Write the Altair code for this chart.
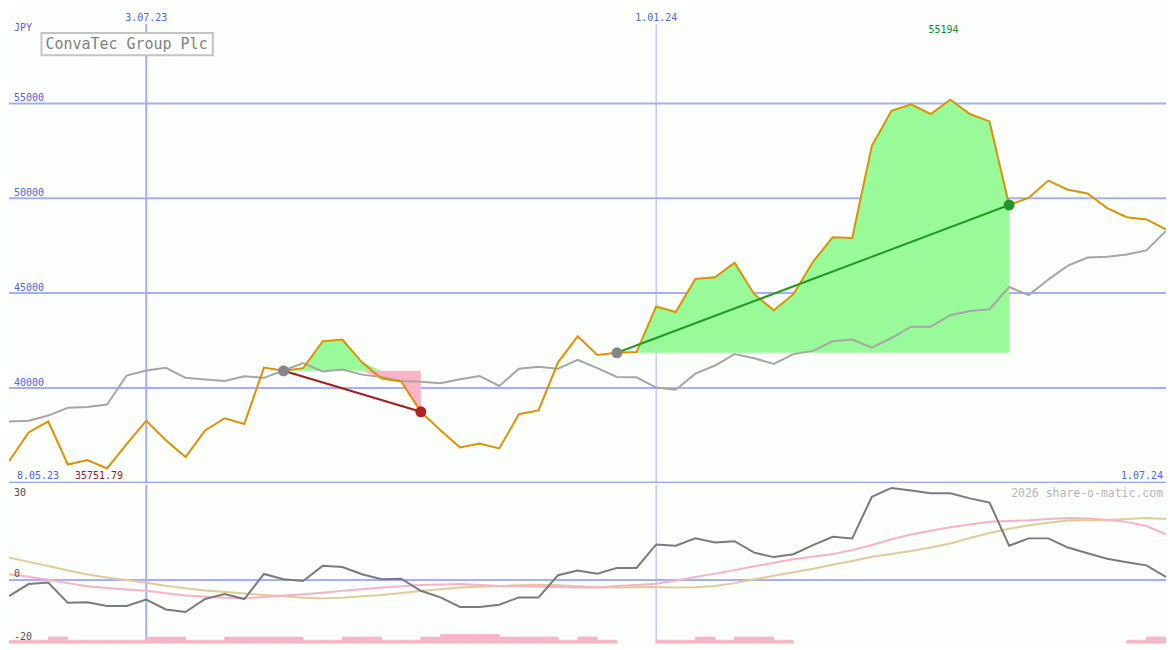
import altair as alt
import pandas as pd

# ---------------- layout ----------------
W, H1, H2 = 1159, 475, 159
SX, SY1, SY2 = W / 1175, H1 / 487, H2 / 163

FONT = "DejaVu Sans Mono"
BG = "#fcfefc"
GRID = "#a3b1f2"
SEP = "#7a88ea"
BLUE = "#5062e6"

# ---------------- data ----------------
week_start = "2023-05-15"
n_weeks = 60
dates = [d.strftime("%Y-%m-%d") for d in pd.date_range(week_start, periods=n_weeks, freq="7D")]

price = [36130, 37650, 38230, 35960, 36200, 35751.79, 37030, 38270, 37240, 36350,
         37760, 38400, 38100, 41070, 40900, 41040, 42460, 42550, 41350, 40490,
         40340, 38740, 37770, 36860, 37070, 36810, 38610, 38810, 41350, 42720,
         41740, 41850, 41890, 44290, 44000, 45740, 45830, 46600, 44940, 44090,
         44940, 46650, 47940, 47900, 52760, 54610, 54950, 54440, 55194, 54440,
         54050, 49640, 50030, 50930, 50450, 50250, 49480, 49000, 48880, 48360]

avg = [38230, 38270, 38540, 38950, 38990, 39120, 40650, 40920, 41060, 40530,
       40440, 40360, 40610, 40530, 40920, 41310, 40870, 40970, 40700, 40580,
       40360, 40320, 40240, 40460, 40630, 40100, 41010, 41120, 41010, 41480,
       41040, 40580, 40560, 40020, 39900, 40750, 41180, 41780, 41560, 41260,
       41780, 41950, 42460, 42550, 42120, 42630, 43230, 43230, 43830, 44050,
       44150, 45320, 44890, 45710, 46450, 46870, 46910, 47030, 47250, 48280]

osc = [-5.1, -1.3, -0.8, -7.2, -7.0, -8.2, -8.2, -6.2, -9.3, -10.1,
       -6.0, -4.4, -6.0, 1.9, 0.2, -0.3, 4.5, 4.1, 1.8, 0.2,
       0.4, -3.4, -5.5, -8.5, -8.5, -7.8, -5.5, -5.5, 1.5, 3.0,
       2.0, 3.8, 3.8, 11.2, 10.8, 13.1, 11.8, 12.2, 8.6, 7.2,
       8.1, 11.0, 13.6, 13.1, 26.2, 29.0, 28.2, 27.3, 27.3, 25.7,
       24.4, 10.8, 13.1, 13.1, 10.2, 8.4, 6.7, 5.6, 4.6, 1.0]

sig_fast = [1.8, 1.0, 0.1, -1.0, -2.0, -2.5, -3.0, -3.4, -4.2, -4.9,
            -5.3, -5.6, -5.8, -5.4, -4.9, -4.5, -4.0, -3.4, -2.9, -2.4,
            -2.0, -1.6, -1.4, -1.3, -1.6, -1.9, -2.0, -2.1, -2.2, -2.4,
            -2.4, -1.9, -1.6, -1.2, -0.2, 0.9, 2.0, 3.1, 4.3, 5.4,
            6.5, 7.4, 8.2, 9.4, 11.0, 12.8, 14.3, 15.5, 16.6, 17.5,
            18.3, 18.6, 18.8, 19.2, 19.5, 19.4, 19.0, 18.3, 17.0, 14.4]

sig_slow = [7.1, 5.7, 4.4, 3.0, 1.7, 0.8, 0.0, -0.9, -1.8, -2.6,
            -3.3, -3.8, -4.3, -4.7, -5.1, -5.6, -5.8, -5.6, -5.1, -4.7,
            -4.1, -3.5, -2.9, -2.4, -2.1, -1.9, -1.7, -1.5, -1.7, -2.0,
            -2.3, -2.4, -2.3, -2.2, -2.4, -2.3, -1.9, -1.0, 0.2, 1.3,
            2.4, 3.5, 4.8, 6.0, 7.3, 8.2, 9.1, 10.2, 11.5, 13.2,
            14.8, 16.1, 17.2, 18.0, 18.7, 18.8, 18.9, 19.2, 19.5, 19.2]

# weekly bars along the bottom of the indicator panel (0 = no bar)
bars = [1, 1, 2, 1, 1, 1, 1, 2, 2, 1,
        1, 2, 2, 2, 2, 1, 1, 2, 2, 1,
        1, 2, 2.8, 2.8, 2.8, 2, 2, 2, 1, 2,
        1, 0, 0, 1, 1, 2, 1, 2, 2, 1,
        0, 0, 0, 0, 0, 0, 0, 0, 0, 0,
        0, 0, 0, 0, 0, 0, 0, 1, 2]

grid_prices = [40000, 45000, 50000, 55000]
osc_levels_below = [30]
osc_levels_above = [0, -20]
month_marks = ["2023-07-03", "2024-01-01"]
month_labels = ["3.07.23", "1.01.24"]
month_widths = [2, 1]
period_start_label = "8.05.23"
period_end_label = "1.07.24"
currency = "JPY"
title = "ConvaTec Group Plc"
watermark = "2026 share-o-matic.com"

trade_entries = [14, 31]
trade_exits = [21, 51]

# ---------------- derived tables ----------------
df = pd.DataFrame({"date": dates, "price": price, "avg": avg, "osc": osc,
                   "fast": sig_fast, "slow": sig_slow})

fill_rows, line_rows, entry_rows, exit_rows = [], [], [], []
for t, (a, b) in enumerate(zip(trade_entries, trade_exits)):
    base = price[a]
    for j in range(a, b + 1):
        fill_rows.append({"trade": t, "date": dates[j], "base": base,
                          "up": max(price[j], base), "dn": min(price[j], base)})
    win = price[b] >= base
    col = "#229a22" if win else "#a41c1c"
    line_rows.append({"trade": t, "date": dates[a], "v": base, "c": col})
    line_rows.append({"trade": t, "date": dates[b], "v": price[b], "c": col})
    entry_rows.append({"date": dates[a], "v": base})
    exit_rows.append({"date": dates[b], "v": price[b], "c": "#22962a" if win else "#b02222"})

fill_df = pd.DataFrame(fill_rows)
tline_df = pd.DataFrame(line_rows)
entry_df = pd.DataFrame(entry_rows)
exit_df = pd.DataFrame(exit_rows)

imax = max(range(n_weeks), key=lambda i: price[i])
max_df = pd.DataFrame({"date": [dates[imax]], "label": [f"{price[imax]:.0f}"]})
min_label = f"{min(price):.2f}"

bar_df = pd.DataFrame({"date": dates[:len(bars)], "date2": dates[1:len(bars) + 1],
                       "lo": [-20] * len(bars), "hi": [-20 + h for h in bars], "h": bars})
bar_df = bar_df[bar_df["h"] > 0]

grid_df = pd.DataFrame({"v": grid_prices, "label": [str(v) for v in grid_prices]})
month_df = pd.DataFrame({"date": month_marks, "label": month_labels, "w": month_widths})

# ---------------- scales ----------------
xs = alt.Scale(type="utc", domain=[alt.DateTime(year=2023, month=5, date=15, utc=True),
                                   alt.DateTime(year=2024, month=7, date=1, utc=True)])
ys1 = alt.Scale(domain=[35000, 60000], nice=False, zero=False)
ys2 = alt.Scale(domain=[-20, 30], nice=False, zero=False)


def X(field="date"):
    return alt.X(f"{field}:T", scale=xs, axis=None)


def Y1(field):
    return alt.Y(f"{field}:Q", scale=ys1, axis=None)


def Y2(field):
    return alt.Y(f"{field}:Q", scale=ys2, axis=None)


one = pd.DataFrame({"k": [0]})

# ---------------- top panel ----------------
hgrid = alt.Chart(grid_df).mark_rule(color=GRID, strokeWidth=2).encode(y=Y1("v"))
hlab = alt.Chart(grid_df).mark_text(align="left", baseline="alphabetic", dy=-2, font=FONT,
                                    fontSize=10, color=BLUE).encode(
    x=alt.value(5 * SX), y=Y1("v"), text="label:N")
sep = alt.Chart(pd.DataFrame({"v": [35000]})).mark_rule(color=SEP, strokeWidth=2, clip=True).encode(
    y=Y1("v"))
vgrid = alt.Chart(month_df).mark_rule(color=GRID).encode(
    x=X(), y=alt.value(16 * SY1), y2=alt.value(H1),
    strokeWidth=alt.StrokeWidth("w:Q", scale=None))
vlab = alt.Chart(month_df).mark_text(align="center", baseline="alphabetic", font=FONT,
                                     fontSize=10, color=BLUE).encode(
    x=X(), y=alt.value(13 * SY1), text="label:N")

fill_up = alt.Chart(fill_df).mark_area(color="#98fa98", opacity=1, clip=True).encode(
    x=X(), y=Y1("up"), y2=alt.Y2("base:Q"), detail="trade:N")
fill_dn = alt.Chart(fill_df).mark_area(color="#fbb4c6", opacity=1, clip=True).encode(
    x=X(), y=Y1("dn"), y2=alt.Y2("base:Q"), detail="trade:N")

avg_line = alt.Chart(df).mark_line(color="#a6a6a6", strokeWidth=2, clip=True).encode(
    x=X(), y=Y1("avg"))
price_line = alt.Chart(df).mark_line(color="#dc9204", strokeWidth=2, clip=True).encode(
    x=X(), y=Y1("price"))
trade_lines = alt.Chart(tline_df).mark_line(strokeWidth=2).encode(
    x=X(), y=Y1("v"), detail="trade:N", color=alt.Color("c:N", scale=None))
entry_pts = alt.Chart(entry_df).mark_circle(size=120, opacity=1, color="#858585").encode(
    x=X(), y=Y1("v"))
exit_pts = alt.Chart(exit_df).mark_circle(size=120, opacity=1).encode(
    x=X(), y=Y1("v"), color=alt.Color("c:N", scale=None))

max_lab = alt.Chart(max_df).mark_text(align="center", baseline="alphabetic", dx=-7 * SX,
                                      font=FONT, fontSize=10, color="#228a22").encode(
    x=X(), y=alt.value(25 * SY1), text="label:N")

txt = dict(baseline="alphabetic", font=FONT, fontSize=10)
jpy = alt.Chart(one).mark_text(align="left", color=BLUE, text=currency, **txt).encode(
    x=alt.value(5 * SX), y=alt.value(23 * SY1))
start_lab = alt.Chart(one).mark_text(align="left", color=BLUE, text=period_start_label, **txt).encode(
    x=alt.value(8 * SX), y=alt.value(483 * SY1))
end_lab = alt.Chart(one).mark_text(align="right", color=BLUE, text=period_end_label, **txt).encode(
    x=alt.value(1172 * SX), y=alt.value(483 * SY1))
min_lab = alt.Chart(one).mark_text(align="left", color="#9a2020", text=min_label, **txt).encode(
    x=alt.value(67 * SX), y=alt.value(483 * SY1))

title_box = alt.Chart(one).mark_rect(fill=BG, stroke="#c4c4c4", strokeWidth=2).encode(
    x=alt.value(33 * SX), x2=alt.value(207 * SX), y=alt.value(25 * SY1), y2=alt.value(48 * SY1))
title_txt = alt.Chart(one).mark_text(align="left", baseline="alphabetic", font=FONT, fontSize=15,
                                     color="#828282", text=title).encode(
    x=alt.value(37 * SX), y=alt.value(42 * SY1))

top = alt.layer(hgrid, vgrid, fill_up, fill_dn, avg_line, price_line, trade_lines,
                entry_pts, exit_pts, hlab, vlab, max_lab, jpy, start_lab, end_lab, min_lab,
                sep, title_box, title_txt).properties(width=W, height=H1)

# ---------------- bottom panel ----------------
zero = alt.Chart(pd.DataFrame({"v": [0]})).mark_rule(color=GRID, strokeWidth=2).encode(y=Y2("v"))
vgrid2 = alt.Chart(month_df).mark_rule(color=GRID).encode(
    x=X(), y=alt.value(0), y2=alt.value(H2),
    strokeWidth=alt.StrokeWidth("w:Q", scale=None))
bar_marks = alt.Chart(bar_df).mark_rect(color="#f8b4c8", stroke="#f8b4c8", strokeWidth=0.8,
                                        clip=True).encode(
    x=X(), x2=alt.X2("date2:T"), y=Y2("lo"), y2=alt.Y2("hi:Q"))
slow_line = alt.Chart(df).mark_line(color="#e2ca9a", strokeWidth=2, clip=True).encode(
    x=X(), y=Y2("slow"))
fast_line = alt.Chart(df).mark_line(color="#f8b2c6", strokeWidth=2, clip=True).encode(
    x=X(), y=Y2("fast"))
osc_line = alt.Chart(df).mark_line(color="#7a7a7a", strokeWidth=2, clip=True).encode(
    x=X(), y=Y2("osc"))
lab_below = alt.Chart(pd.DataFrame({"v": osc_levels_below})).mark_text(
    align="left", baseline="alphabetic", dy=12 * SY2, font=FONT, fontSize=10, color="#505050").encode(
    x=alt.value(5 * SX), y=Y2("v"), text="v:N")
lab_above = alt.Chart(pd.DataFrame({"v": osc_levels_above})).mark_text(
    align="left", baseline="alphabetic", dy=-3, font=FONT, fontSize=10, color="#505050").encode(
    x=alt.value(5 * SX), y=Y2("v"), text="v:N")
wm = alt.Chart(one).mark_text(align="right", baseline="alphabetic", font=FONT, fontSize=11.5,
                              color="#b6b6b6", text=watermark).encode(
    x=alt.value(1172 * SX), y=alt.value(13 * SY2))

bottom = alt.layer(zero, vgrid2, bar_marks, slow_line, fast_line, osc_line,
                   lab_below, lab_above, wm).properties(width=W, height=H2)

chart = alt.vconcat(top, bottom, spacing=0).properties(
    background=BG, padding=0
).configure_view(stroke=None).configure_concat(spacing=0)

chart.save("out.html", embed_options={"renderer": "svg", "actions": False})
